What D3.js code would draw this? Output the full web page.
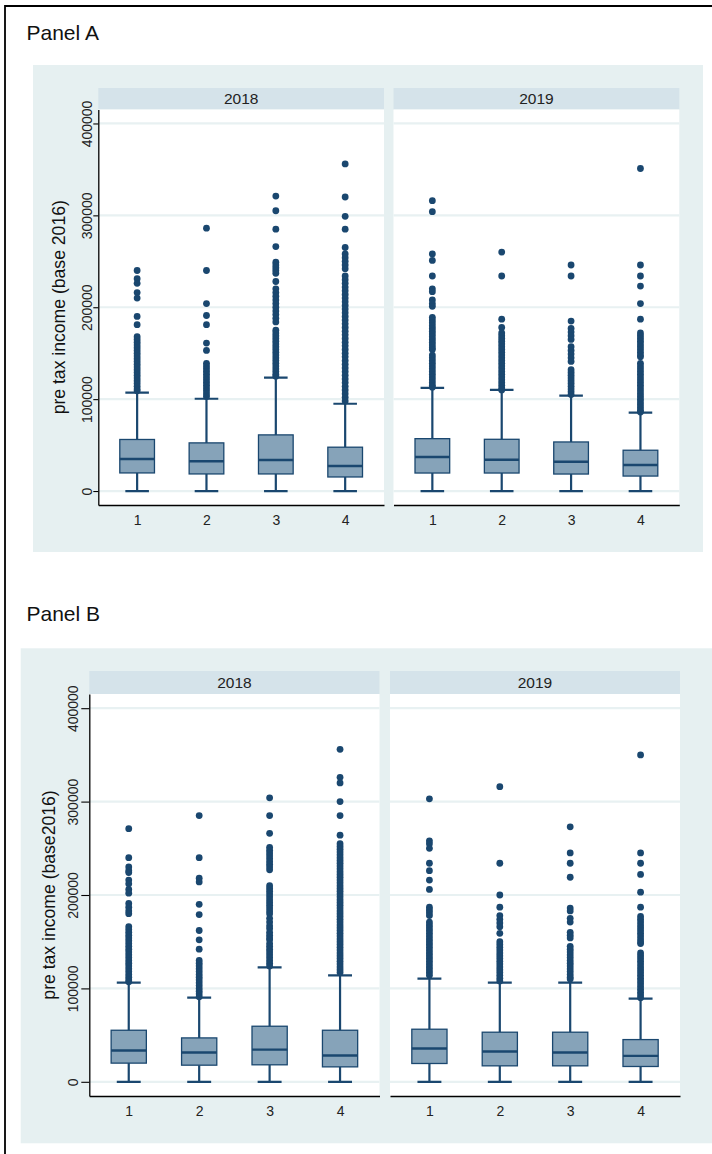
<!DOCTYPE html>
<html>
<head>
<meta charset="utf-8">
<script src="https://cdn.jsdelivr.net/npm/d3@7"></script>
<style>
  body { margin: 0; background: #fff; }
  svg { display: block; font-family: "Liberation Sans", Arial, sans-serif; }
</style>
</head>
<body>
<svg id="canvas"></svg>
<script>
// box plot stats, values in thousands
var groupLabels = ["1", "2", "3", "4"];
var yearLabels = ["2018", "2019"];
var yTickValues = [0, 100000, 200000, 300000, 400000];

// Panel A
var a2018Q1 = [19.7, 18.6, 18.6, 15.3];
var a2018Med = [34.9, 32.4, 33.8, 27.3];
var a2018Q3 = [56.1, 52.4, 61.1, 47.7];
var a2018Lo = [0, 0, 0, 0];
var a2018Hi = [107, 100.4, 123.4, 95];
var a2018Out = [
  [240,231,226,216,210,190,181,168,165,162,159,156,153,150,147,144,141,138,135,132,129,126,123,120,117,114,111,109],
  [286,240,204,191,181,161,153,139,136,133,130,127,124,121,118,115,112,109,106,103],
  [321,305,285,266,249,246,243,240,237,228,220,216,212,208,204,200,196,192,188,184,175,172,169,166,163,160,157,154,151,148,145,142,139,136,133,130,127,125],
  [356,320,299,285,265,258,254,250,246,242,234,230,226,222,218,214,210,206,202,198,194,190,186,182,178,174,170,166,162,158,154,150,146,142,138,134,130,126,122,118,114,110,106,102,98]
];

var a2019Q1 = [19.6, 19.6, 18.5, 16.3];
var a2019Med = [37, 34.1, 31.9, 28.3];
var a2019Q3 = [57, 56.3, 53.4, 44.4];
var a2019Lo = [0, 0, 0, 0];
var a2019Hi = [112.3, 110.1, 103.9, 85.3];
var a2019Out = [
  [316,304,258,251,234,220,217,208,204,201,189,186,183,180,177,174,171,168,165,162,159,156,154,148,145,142,139,136,133,130,127,124,121,118,115,113],
  [260,234,187,178,172,169,166,163,160,157,154,151,148,145,142,139,136,133,130,127,124,121,118,115,112,110],
  [246,234,185,177,173,169,165,157,153,149,145,141,132,129,126,123,120,117,114,111,108,105],
  [351,246,234,223,204,187,172,169,166,163,160,157,154,151,148,146,139,136,133,130,127,124,121,118,115,112,109,106,103,100,97,94,91,88,86]
];

// Panel B
var b2018Q1 = [20, 17.8, 18.2, 16];
var b2018Med = [33.5, 31.3, 34.5, 28.1];
var b2018Q3 = [55.2, 47, 59.5, 55.2];
var b2018Lo = [0, 0, 0, 0];
var b2018Hi = [106.1, 90.1, 122.5, 114];
var b2018Out = [
  [271,240,230,226,224,216,212,206,202,191,187,183,180,166,163,160,157,154,151,148,145,142,139,136,133,130,127,124,121,118,115,112,109,107],
  [285,240,218,214,190,179,162,152,142,130,127,124,121,118,115,112,109,106,103,100,97,94,91],
  [304,285,266,251,248,245,242,239,236,233,230,227,210,207,204,201,198,195,192,189,186,183,180,175,171,167,164,160,157,154,152,148,145,142,139,136,133,130,127,124],
  [356,326,320,300,285,264,255,252,249,246,243,240,237,234,231,228,225,222,219,216,213,210,207,204,201,198,195,192,189,186,183,180,177,174,171,168,165,162,159,156,153,150,147,144,141,138,135,132,129,126,123,120,117]
];

var b2019Q1 = [19.6, 17.1, 17.1, 16.4];
var b2019Med = [35.6, 32.4, 31.3, 27.8];
var b2019Q3 = [56.3, 53.1, 53.1, 45.2];
var b2019Lo = [0, 0, 0, 0];
var b2019Hi = [110.4, 106.1, 106.1, 89];
var b2019Out = [
  [303,258,255,250,234,226,216,206,187,184,181,178,171,168,165,162,159,156,153,150,147,144,141,138,135,132,129,126,123,120,117,114],
  [316,234,200,187,178,174,170,166,159,150,147,144,141,138,135,132,129,126,123,120,117,114,111,108],
  [273,245,234,219,186,183,175,171,160,157,154,145,142,139,136,133,130,127,124,121,118,115,112,110],
  [350,245,234,222,203,187,177,174,171,168,165,162,159,156,153,150,148,138,135,132,129,126,123,120,117,114,111,108,105,102,99,96,93,90]
];

var navy = "#1a476f",
    boxFill = "#86a3b9",
    bgColor = "#e6f0f1",
    stripColor = "#d5e3ea",
    gridColor = "#e8f1f2";

var width = 712, height = 1154;
var svg = d3.select("#canvas").attr("width", width).attr("height", height);

// outer frame (top and left edges only are visible)
svg.append("path")
    .attr("d", "M5," + height + "V6H" + width)
    .attr("fill", "none")
    .attr("stroke", "#000")
    .attr("stroke-width", 1.8);

function stats(q1, med, q3, lo, hi, out) {
    return groupLabels.map(function(g, i) {
        return {g: g, q1: q1[i] * 1000, med: med[i] * 1000, q3: q3[i] * 1000,
                lo: lo[i] * 1000, hi: hi[i] * 1000,
                out: out[i].map(function(v) { return v * 1000; })};
    });
}

function drawPanel(p) {
    svg.append("text")
        .attr("x", p.titleX).attr("y", p.titleY)
        .attr("font-size", 21).attr("fill", "#111")
        .text(p.title);

    svg.append("rect")
        .attr("x", p.bg[0]).attr("y", p.bg[1])
        .attr("width", p.bg[2] - p.bg[0]).attr("height", p.bg[3] - p.bg[1])
        .attr("fill", bgColor);

    var y = d3.scaleLinear().domain([-15200, 415200]).range([p.bottom, p.top]);

    // y title
    svg.append("text")
        .attr("transform", "translate(" + p.yTitleX + "," + ((p.top + p.bottom) / 2) + ") rotate(-90)")
        .attr("text-anchor", "middle")
        .attr("dy", "0.35em")
        .attr("font-size", 17.6)
        .attr("fill", "#111")
        .text(p.yTitle);

    p.facets.forEach(function(f, k) {
        var x0 = p.xr[k][0], x1 = p.xr[k][1];
        var x = d3.scalePoint().domain(groupLabels).range([x0, x1]).padding(0.56);
        var step = x.step();
        var g = svg.append("g");

        // strip
        g.append("rect")
            .attr("x", x0).attr("y", p.stripTop)
            .attr("width", x1 - x0).attr("height", p.top - p.stripTop)
            .attr("fill", stripColor);
        g.append("text")
            .attr("x", (x0 + x1) / 2).attr("y", (p.stripTop + p.top) / 2)
            .attr("dy", "0.36em")
            .attr("text-anchor", "middle")
            .attr("font-size", 15.5).attr("fill", "#222")
            .text(yearLabels[k]);

        // plot area
        g.append("rect")
            .attr("x", x0).attr("y", p.top)
            .attr("width", x1 - x0).attr("height", p.bottom - p.top)
            .attr("fill", "#fff");

        g.append("g")
            .selectAll("line")
            .data(yTickValues)
            .enter()
            .append("line")
            .attr("x1", x0).attr("x2", x1)
            .attr("y1", function(d) { return y(d); })
            .attr("y2", function(d) { return y(d); })
            .attr("stroke", gridColor)
            .attr("stroke-width", 2.2);

        // y axis only on the first facet
        if (k === 0) {
            var ya = g.append("g")
                .attr("transform", "translate(" + x0 + ",0)")
                .call(d3.axisLeft(y).tickValues(yTickValues).tickSize(p.tickLen).tickSizeOuter(0).tickFormat(d3.format("d")));
            ya.select(".domain").attr("stroke", "#000").attr("stroke-width", 1.3);
            ya.selectAll(".tick line").attr("stroke", "#000").attr("stroke-width", 1.1);
            ya.selectAll(".tick text")
                .attr("x", null).attr("y", 0)
                .attr("transform", "translate(" + (p.tickLabelX - x0) + ",0) rotate(-90)")
                .attr("text-anchor", "middle")
                .attr("dy", "0.36em")
                .attr("font-size", 14)
                .attr("font-family", "Liberation Sans, Arial, sans-serif")
                .attr("fill", "#222");
        }

        var xa = g.append("g")
            .attr("transform", "translate(0," + p.bottom + ")")
            .call(d3.axisBottom(x).tickSize(0).tickSizeOuter(0));
        xa.select(".domain").attr("stroke", "#000").attr("stroke-width", 1.3);
        xa.selectAll(".tick text")
            .attr("y", p.xLabelY - p.bottom)
            .attr("dy", "0.36em")
            .attr("font-size", 14)
            .attr("font-family", "Liberation Sans, Arial, sans-serif")
            .attr("fill", "#222");

        var boxes = g.append("g")
            .selectAll("g")
            .data(f)
            .enter()
            .append("g")
            .attr("transform", function(d) { return "translate(" + x(d.g) + ",0)"; });

        var bw = step * 0.5, cw = step * 0.34;

        // whiskers
        boxes.append("path")
            .attr("d", function(d) {
                return "M0," + y(d.q3) + "V" + y(d.hi) + "M" + (-cw / 2) + "," + y(d.hi) + "H" + (cw / 2) +
                       "M0," + y(d.q1) + "V" + y(d.lo) + "M" + (-cw / 2) + "," + y(d.lo) + "H" + (cw / 2);
            })
            .attr("fill", "none")
            .attr("stroke", navy)
            .attr("stroke-width", 2.2);

        boxes.append("rect")
            .attr("x", -bw / 2)
            .attr("y", function(d) { return y(d.q3); })
            .attr("width", bw)
            .attr("height", function(d) { return y(d.q1) - y(d.q3); })
            .attr("fill", boxFill)
            .attr("stroke", navy)
            .attr("stroke-width", 1.3);

        boxes.append("line")
            .attr("x1", -bw / 2).attr("x2", bw / 2)
            .attr("y1", function(d) { return y(d.med); })
            .attr("y2", function(d) { return y(d.med); })
            .attr("stroke", navy)
            .attr("stroke-width", 2.4);

        boxes.selectAll("circle")
            .data(function(d) { return d.out; })
            .enter()
            .append("circle")
            .attr("cx", 0)
            .attr("cy", function(v) { return y(v); })
            .attr("r", 3.4)
            .attr("fill", navy);
    });
}

drawPanel({
    title: "Panel A", titleX: 26.5, titleY: 39.5,
    bg: [33, 65, 703, 552],
    stripTop: 88, top: 109.5, bottom: 505,
    xr: [[98.3, 384], [393.5, 679.3]],
    yTitle: "pre tax income (base 2016)", yTitleX: 58.5,
    tickLabelX: 86.5, tickLen: 5, xLabelY: 519.5,
    facets: [
        stats(a2018Q1, a2018Med, a2018Q3, a2018Lo, a2018Hi, a2018Out),
        stats(a2019Q1, a2019Med, a2019Q3, a2019Lo, a2019Hi, a2019Out)
    ]
});

drawPanel({
    title: "Panel B", titleX: 26.5, titleY: 620.5,
    bg: [20.7, 648.3, 712, 1143.3],
    stripTop: 671, top: 694, bottom: 1096,
    xr: [[89.3, 379.5], [390, 680]],
    yTitle: "pre tax income (base2016)", yTitleX: 48.5,
    tickLabelX: 72.5, tickLen: 8, xLabelY: 1111,
    facets: [
        stats(b2018Q1, b2018Med, b2018Q3, b2018Lo, b2018Hi, b2018Out),
        stats(b2019Q1, b2019Med, b2019Q3, b2019Lo, b2019Hi, b2019Out)
    ]
});
</script>
</body>
</html>
